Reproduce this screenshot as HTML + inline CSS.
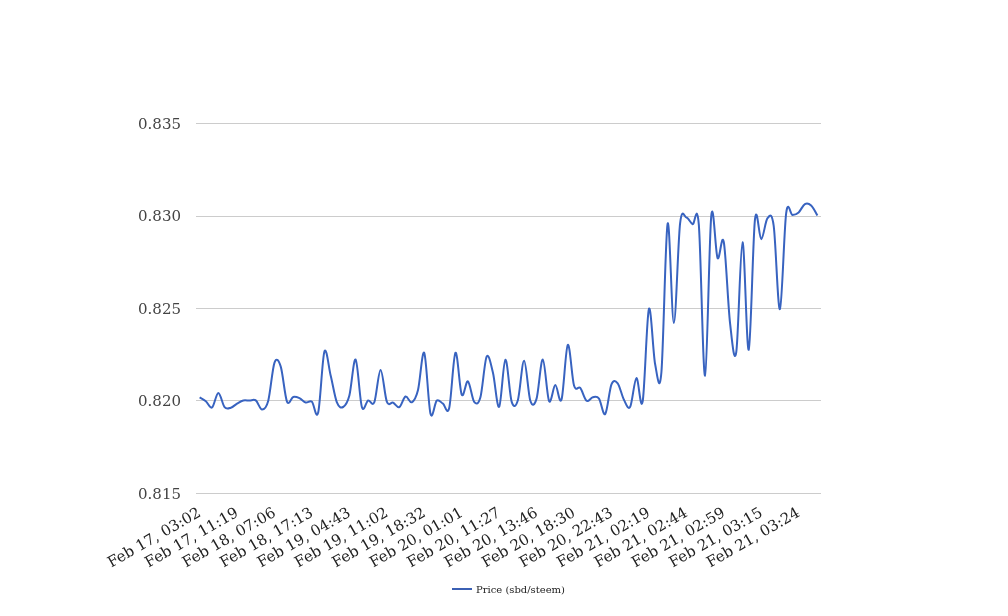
<!DOCTYPE html>
<html><head><meta charset="utf-8"><title>Price (sbd/steem)</title>
<style>
html,body{margin:0;padding:0;background:#fff;}
body{width:1008px;height:616px;overflow:hidden;font-family:"DejaVu Serif","Liberation Serif",serif;}
svg{display:block;}
svg text{font-family:"DejaVu Serif","Liberation Serif",serif;}
</style></head><body>
<svg width="1008" height="616" viewBox="0 0 1008 616">
<rect x="0" y="0" width="1008" height="616" fill="#ffffff"/>

<g>
<rect x="196" y="123" width="625" height="1" fill="#cccccc"/>
<rect x="196" y="216" width="625" height="1" fill="#cccccc"/>
<rect x="196" y="308" width="625" height="1" fill="#cccccc"/>
<rect x="196" y="400" width="625" height="1" fill="#cccccc"/>
<rect x="196" y="493" width="625" height="1" fill="#cccccc"/>
</g>
<g fill="#444444" font-size="15" text-anchor="end">
<text x="181" y="128.75">0.835</text>
<text x="181" y="221.25">0.830</text>
<text x="181" y="313.75">0.825</text>
<text x="181" y="406.25">0.820</text>
<text x="181" y="498.75">0.815</text>
</g>
<path d="M199.62,397.36C199.62,397.36,203.78,399.64,205.86,401.31C207.94,402.98,210.02,408.78,212.10,407.40C214.18,406.02,216.26,393.03,218.34,393.00C220.42,392.97,222.50,404.75,224.58,407.20C226.66,409.65,228.74,408.29,230.82,407.70C232.90,407.11,234.98,404.86,237.06,403.66C239.14,402.46,241.22,401.01,243.30,400.50C245.38,399.99,247.46,400.63,249.54,400.62C251.62,400.61,253.70,398.93,255.78,400.41C257.86,401.89,259.94,409.46,262.02,409.50C264.10,409.54,266.18,408.49,268.26,400.67C270.34,392.85,272.42,368.25,274.50,362.58C276.58,356.91,278.66,360.16,280.74,366.65C282.82,373.14,284.90,396.48,286.98,401.53C289.06,406.58,291.14,397.52,293.22,396.96C295.30,396.40,297.38,397.25,299.46,398.18C301.54,399.11,303.62,401.95,305.70,402.53C307.78,403.11,309.86,400.00,311.94,401.67C314.02,403.34,316.10,420.89,318.18,412.54C320.26,404.19,322.34,357.71,324.42,351.54C326.50,345.37,328.58,367.05,330.66,375.54C332.74,384.03,334.82,397.24,336.90,402.48C338.98,407.72,341.06,408.15,343.14,407.00C345.22,405.85,347.30,403.46,349.38,395.56C351.46,387.66,353.54,357.70,355.62,359.60C357.70,361.50,359.78,400.15,361.86,406.96C363.94,413.77,366.02,401.25,368.10,400.45C370.18,399.65,372.26,407.25,374.34,402.16C376.42,397.07,378.50,369.98,380.58,369.89C382.66,369.80,384.74,396.17,386.82,401.64C388.90,407.11,390.98,401.77,393.06,402.69C395.14,403.61,397.22,408.19,399.30,407.17C401.38,406.15,403.46,397.36,405.54,396.55C407.62,395.74,409.70,403.39,411.78,402.29C413.86,401.19,415.94,398.20,418.02,389.97C420.10,381.74,422.18,348.95,424.26,352.91C426.34,356.87,428.42,405.80,430.50,413.75C432.58,421.70,434.66,402.30,436.74,400.62C438.82,398.94,440.90,402.47,442.98,403.69C445.06,404.91,447.14,416.42,449.22,407.94C451.30,399.46,453.38,355.01,455.46,352.78C457.54,350.55,459.62,389.82,461.70,394.58C463.78,399.34,465.86,380.13,467.94,381.34C470.02,382.55,472.10,399.16,474.18,401.82C476.26,404.48,478.34,404.82,480.42,397.29C482.50,389.76,484.58,360.78,486.66,356.65C488.74,352.52,490.82,364.14,492.90,372.50C494.98,380.86,497.06,408.91,499.14,406.79C501.22,404.67,503.30,360.62,505.38,359.76C507.46,358.90,509.54,394.88,511.62,401.61C513.70,408.34,515.78,406.98,517.86,400.17C519.94,393.36,522.02,360.67,524.10,360.77C526.18,360.87,528.26,394.44,530.34,400.75C532.42,407.06,534.50,405.50,536.58,398.62C538.66,391.74,540.74,359.03,542.82,359.44C544.90,359.85,546.98,396.82,549.06,401.10C551.14,405.38,553.22,385.38,555.30,385.11C557.38,384.84,559.46,406.16,561.54,399.46C563.62,392.76,565.70,347.23,567.78,344.92C569.86,342.61,571.94,378.39,574.02,385.57C576.10,392.75,578.18,385.44,580.26,387.98C582.34,390.52,584.42,399.26,586.50,400.81C588.58,402.36,590.66,397.66,592.74,397.29C594.82,396.92,596.90,395.77,598.98,398.56C601.06,401.35,603.14,416.43,605.22,414.05C607.30,411.67,609.38,389.40,611.46,384.27C613.54,379.14,615.62,380.70,617.70,383.29C619.78,385.88,621.86,395.86,623.94,399.79C626.02,403.72,628.10,410.48,630.18,406.87C632.26,403.26,634.34,379.01,636.42,378.13C638.50,377.25,640.58,413.13,642.66,401.61C644.74,390.09,646.82,315.25,648.90,309.02C650.98,302.79,653.06,353.63,655.14,364.21C657.22,374.79,659.30,395.93,661.38,372.51C663.46,349.09,665.54,231.95,667.62,223.68C669.70,215.41,671.78,322.95,673.86,322.89C675.94,322.83,678.02,240.84,680.10,223.29C682.18,205.74,684.26,217.39,686.34,217.55C688.42,217.71,690.50,223.07,692.58,224.24C694.66,225.41,696.74,199.36,698.82,224.59C700.90,249.82,702.98,377.13,705.06,375.63C707.14,374.13,709.22,235.19,711.30,215.58C713.38,195.97,715.46,253.59,717.54,257.98C719.62,262.37,721.70,231.15,723.78,241.95C725.86,252.75,727.94,304.43,730.02,322.80C732.10,341.17,734.18,365.60,736.26,352.17C738.34,338.74,740.42,242.61,742.50,242.19C744.58,241.77,746.66,353.44,748.74,349.66C750.82,345.88,752.90,237.89,754.98,219.48C757.06,201.07,759.14,239.41,761.22,239.21C763.30,239.01,765.38,220.48,767.46,218.28C769.54,216.08,771.62,210.84,773.70,225.98C775.78,241.12,777.86,311.27,779.94,309.13C782.02,306.99,784.10,228.84,786.18,213.15C788.26,197.46,790.34,215.09,792.42,214.96C794.50,214.83,796.58,214.20,798.66,212.38C800.74,210.56,802.82,205.18,804.90,204.02C806.98,202.86,809.06,203.50,811.14,205.41C813.22,207.32,817.38,215.50,817.38,215.50" fill="none" stroke="#3863c0" stroke-width="2"/>
<g fill="#222222" font-size="15" text-anchor="end">
<text transform="translate(201.82,515.50) rotate(-30)" x="0" y="0">Feb 17, 03:02</text>
<text transform="translate(239.26,515.50) rotate(-30)" x="0" y="0">Feb 17, 11:19</text>
<text transform="translate(276.70,515.50) rotate(-30)" x="0" y="0">Feb 18, 07:06</text>
<text transform="translate(314.14,515.50) rotate(-30)" x="0" y="0">Feb 18, 17:13</text>
<text transform="translate(351.58,515.50) rotate(-30)" x="0" y="0">Feb 19, 04:43</text>
<text transform="translate(389.02,515.50) rotate(-30)" x="0" y="0">Feb 19, 11:02</text>
<text transform="translate(426.46,515.50) rotate(-30)" x="0" y="0">Feb 19, 18:32</text>
<text transform="translate(463.90,515.50) rotate(-30)" x="0" y="0">Feb 20, 01:01</text>
<text transform="translate(501.34,515.50) rotate(-30)" x="0" y="0">Feb 20, 11:27</text>
<text transform="translate(538.78,515.50) rotate(-30)" x="0" y="0">Feb 20, 13:46</text>
<text transform="translate(576.22,515.50) rotate(-30)" x="0" y="0">Feb 20, 18:30</text>
<text transform="translate(613.66,515.50) rotate(-30)" x="0" y="0">Feb 20, 22:43</text>
<text transform="translate(651.10,515.50) rotate(-30)" x="0" y="0">Feb 21, 02:19</text>
<text transform="translate(688.54,515.50) rotate(-30)" x="0" y="0">Feb 21, 02:44</text>
<text transform="translate(725.98,515.50) rotate(-30)" x="0" y="0">Feb 21, 02:59</text>
<text transform="translate(763.42,515.50) rotate(-30)" x="0" y="0">Feb 21, 03:15</text>
<text transform="translate(800.86,515.50) rotate(-30)" x="0" y="0">Feb 21, 03:24</text>
</g>
<g><rect x="452" y="588" width="20" height="2" fill="#3b60b4"/><text x="476" y="592.5" font-size="10" fill="#222222">Price (sbd/steem)</text></g>
</svg></body></html>
